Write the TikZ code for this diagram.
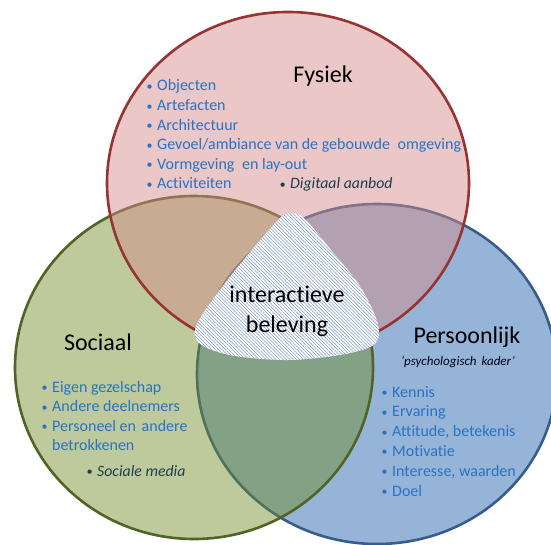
\documentclass[tikz,border=0pt]{standalone}
\usepackage{fontspec}
\setmainfont{Carlito}[Ligatures=NoCommon]
\usetikzlibrary{patterns.meta}
\definecolor{redfill}{RGB}{213,138,138}
\definecolor{greenfill}{RGB}{111,138,35}
\definecolor{bluefill}{RGB}{149,180,215}
\definecolor{redline}{RGB}{150,52,50}
\definecolor{greenline}{RGB}{80,100,38}
\definecolor{blueline}{RGB}{56,93,138}
\definecolor{itemblue}{RGB}{40,115,195}
\definecolor{darktext}{RGB}{30,62,80}
\definecolor{hatchcol}{RGB}{128,155,198}
\newcommand\mybul{\llap{\raisebox{0.5pt}{\fontsize{12}{12}\selectfont\textbullet}\hspace{4.5pt}}}
\begin{document}
\begin{tikzpicture}[x=1pt,y=-1pt,
  circ/.style={line width=2.6pt},
  title/.style={anchor=base, inner sep=0, text=black, font=\fontsize{24}{29}\selectfont},
  item/.style={anchor=base west, inner sep=0, text=itemblue, font=\fontsize{16}{19}\selectfont},
  extra/.style={anchor=base west, inner sep=0, text=darktext, font=\fontsize{15.8}{19}\selectfont\itshape},
  sub/.style={anchor=base, inner sep=0, text=black!90!blue, font=\fontsize{13}{16}\selectfont\itshape}]
\clip (0,0) rectangle (551,545);
\fill[white] (0,0) rectangle (551,545);
% circles: blue at bottom, green, red on top
\draw[circ, fill=bluefill, draw=blueline] (377,374) ellipse [x radius=180pt, y radius=170pt];
\draw[circ, fill=greenfill, fill opacity=0.45, draw=greenline] (194,367.5) ellipse [x radius=179pt, y radius=171.5pt];
\draw[circ, fill=redfill, fill opacity=0.47, draw=redline] (288,183) ellipse [x radius=181pt, y radius=171pt];
% hatched centre
\fill[white] plot[smooth cycle, tension=0.55] coordinates {(292,213) (305,219) (331,250) (358,283) (374,313) (379,333) (372,346) (340,355) (288,360) (235,356) (205,347) (195,336) (199,320) (222,287) (246,257) (279,219)};
\fill[pattern={Lines[angle=-45, distance=2.4pt, line width=0.55pt]}, pattern color=hatchcol] plot[smooth cycle, tension=0.55] coordinates {(292,213) (305,219) (331,250) (358,283) (374,313) (379,333) (372,346) (340,355) (288,360) (235,356) (205,347) (195,336) (199,320) (222,287) (246,257) (279,219)};
% titles
\node[title] (fys) at (323,83) {Fysiek};
\node[title] (soc) at (98,350) {Sociaal};
\node[title] (per) at (467,343) {Persoonlijk};
\node[sub] (psy) at (458,365) {‘psychologisch\hspace{2pt} kader’};
\node[title] (int1) at (287,302) {interactieve};
\node[title] (int2) at (287,332) {beleving};
% Fysiek list
\foreach \t [count=\i] in {Objecten, Artefacten, Architectuur, Gevoel/ambiance van de gebouwde\hspace{4pt} omgeving, Vormgeving\hspace{4pt} en lay-out, Activiteiten}
  \node[item] (f\i) at (157,{91+(\i-1)*19.6}) {\mybul\t};
\node[extra] (fd) at (290,189) {\mybul Digitaal aanbod};
% Sociaal list
\node[item] (s1) at (52,392) {\mybul Eigen gezelschap};
\node[item] (s2) at (52,411.5) {\mybul Andere deelnemers};
\node[item] (s3) at (52,431) {\mybul Personeel en\hspace{2pt} andere};
\node[item] (s4) at (52,450.5) {betrokkenen};
\node[extra] (sd) at (97,476) {\mybul Sociale media};
% Persoonlijk list
\foreach \t [count=\i] in {Kennis, Ervaring, {Attitude, betekenis}, Motivatie, {Interesse, waarden}, Doel}
  \node[item] (p\i) at (392,{397+(\i-1)*19.8}) {\mybul\t};
\end{tikzpicture}
\end{document}
